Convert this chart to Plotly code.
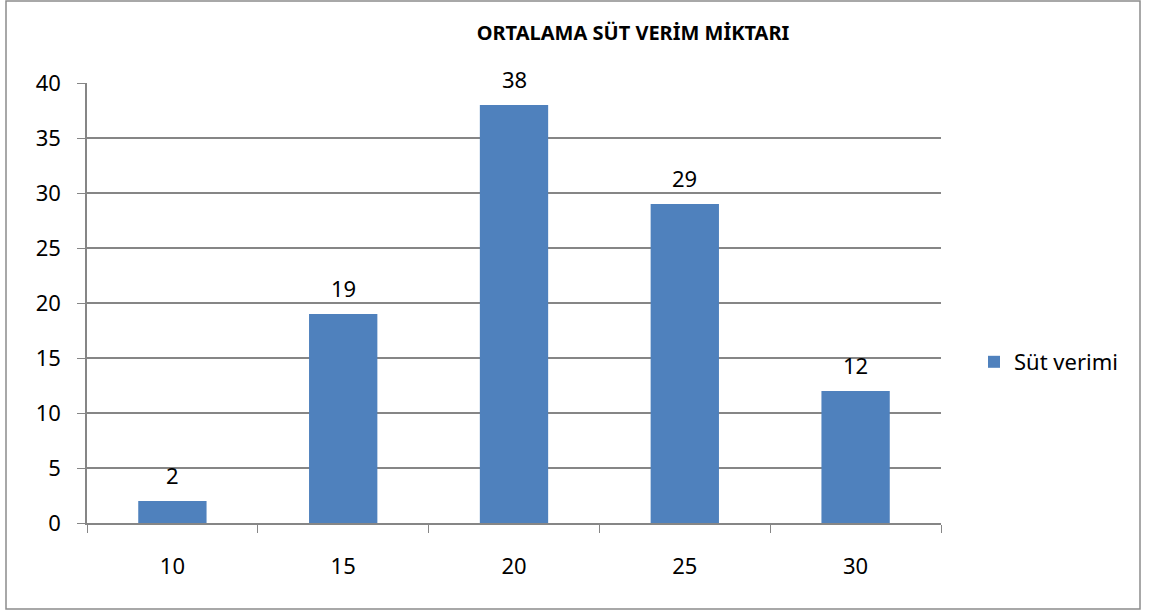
import plotly.graph_objects as go

categories = ["10", "15", "20", "25", "30"]
values = [2, 19, 38, 29, 12]
series_name = "Süt verimi"
title_text = "ORTALAMA SÜT VERİM MİKTARI"
y_ticks = [0, 5, 10, 15, 20, 25, 30, 35, 40]

W, H = 1152, 612
ML, MR, MT, MB = 87, 211, 83, 89
PW, PH = W - ML - MR, H - MT - MB

def px_x(p):
    return (p - ML) / PW

def px_y(p):
    return (H - MB - p) / PH

FONT = "Noto Sans"
GRID = "#868686"

fig = go.Figure()
fig.add_trace(go.Bar(
    x=categories, y=values, name=series_name,
    marker=dict(color="#4F81BD", line=dict(width=0)),
    width=0.4,
))

for i, v in enumerate(values):
    fig.add_annotation(x=i, y=v, text=str(v), showarrow=False,
                       yanchor="middle", yshift=26,
                       font=dict(family=FONT, size=22, color="#000000"))

fig.add_shape(type="rect", xref="paper", yref="paper",
              x0=px_x(6), x1=px_x(1140), y0=px_y(609), y1=px_y(1),
              line=dict(color="#8c8c8c", width=1.5), fillcolor="rgba(0,0,0,0)",
              layer="below")

fig.update_layout(
    width=W, height=H,
    margin=dict(l=ML, r=MR, t=MT, b=MB, autoexpand=False),
    paper_bgcolor="white", plot_bgcolor="white",
    title=dict(text="<b>" + title_text + "</b>", x=633 / W, xanchor="center",
               y=1 - 33 / H, yanchor="middle",
               font=dict(family=FONT, size=20, color="#000000")),
    showlegend=True,
    legend=dict(x=px_x(974), y=px_y(362), xanchor="left", yanchor="middle",
                font=dict(family=FONT, size=22, color="#000000"),
                bgcolor="rgba(0,0,0,0)"),
    xaxis=dict(type="category", range=[-0.5, len(categories) - 0.5],
               tickson="boundaries", ticks="outside",
               ticklen=8, tickcolor=GRID, showline=True, linecolor=GRID,
               linewidth=1.5, showgrid=False, ticklabelstandoff=23,
               tickangle=0,
               tickfont=dict(family=FONT, size=22, color="#000000")),
    yaxis=dict(range=[0, 40], tickvals=y_ticks, ticks="outside", ticklen=8,
               tickcolor=GRID, showline=True, linecolor=GRID, linewidth=1.5,
               showgrid=True, gridcolor=GRID, gridwidth=1.5, zeroline=False,
               ticklabelstandoff=12,
               tickfont=dict(family=FONT, size=22, color="#000000")),
)

fig.write_html("out.html", config={"displayModeBar": False},
               post_script="document.body.style.margin='0';")
